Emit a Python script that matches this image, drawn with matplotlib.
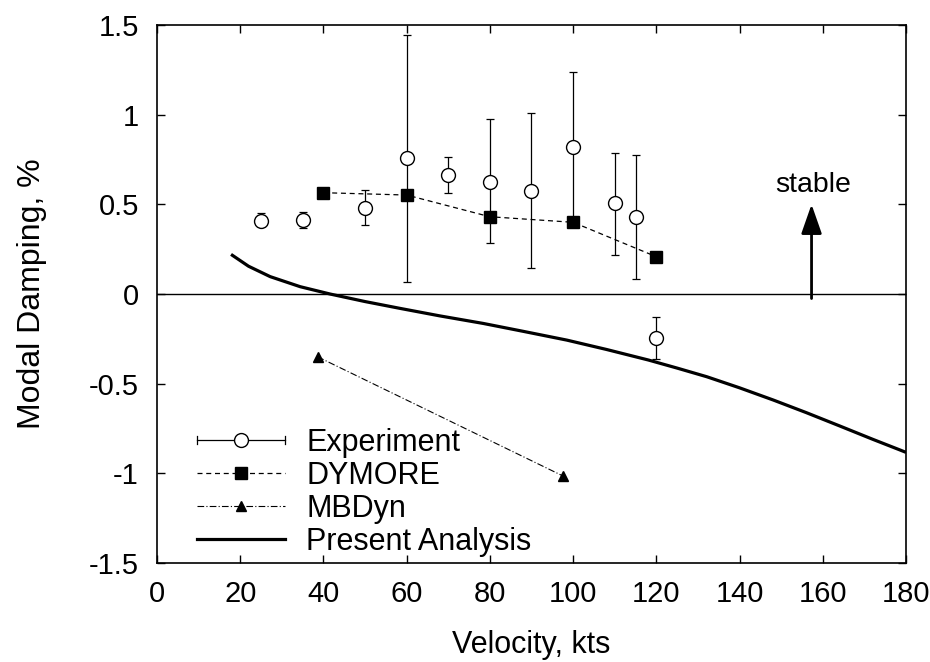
import matplotlib
matplotlib.use("Agg")
import matplotlib.pyplot as plt
import numpy as np
from matplotlib.lines import Line2D
from matplotlib.legend_handler import HandlerBase

plt.rcParams['font.family'] = ['Liberation Sans', 'DejaVu Sans']

# ---- data ----
exp_v = [25, 35, 50, 60, 70, 80, 90, 100, 110, 115, 120]
exp_d = [0.405, 0.41, 0.478, 0.758, 0.662, 0.626, 0.574, 0.822, 0.509, 0.428, -0.244]
exp_hi = [0.45, 0.456, 0.58, 1.446, 0.764, 0.974, 1.009, 1.236, 0.786, 0.777, -0.126]
exp_lo = [0.385, 0.366, 0.385, 0.067, 0.565, 0.284, 0.145, 0.40, 0.219, 0.082, -0.364]

dym_v = [40, 60, 80, 100, 120]
dym_d = [0.565, 0.552, 0.431, 0.40, 0.208]

mbd_v = [38.6, 97.6]
mbd_d = [-0.35, -1.015]

pa_v = [17.8, 22.0, 27.2, 34.4, 41.6, 50.0, 58.4, 68.0, 78.4, 88.0, 98.5, 108.0,
        118.1, 125.0, 132.1, 140.0, 148.1, 156.0, 164.1, 172.0, 178.6, 180.0]
pa_d = [0.221, 0.155, 0.097, 0.041, 0.0, -0.042, -0.080, -0.122, -0.164, -0.208,
        -0.257, -0.309, -0.368, -0.413, -0.461, -0.523, -0.591, -0.661, -0.736,
        -0.810, -0.870, -0.883]

xticks = [0, 20, 40, 60, 80, 100, 120, 140, 160, 180]
yticks = [-1.5, -1, -0.5, 0, 0.5, 1, 1.5]
ytick_labels = ['-1.5', '-1', '-0.5', '0', '0.5', '1', '1.5']

FS_TICK = 21
FS_LAB = 22
FS_LEG = 22

fig = plt.figure(figsize=(9.3, 6.62), dpi=100)
ax = fig.add_axes([0.1688, 0.1495, 0.9742 - 0.1688, 0.9622 - 0.1495])

# zero line
ax.axhline(0, color='black', lw=1.0, zorder=1)

# present analysis
ax.plot(pa_v, pa_d, color='black', lw=2.3, solid_capstyle='butt', zorder=3)

# experiment error bars
ev = np.array(exp_v); ed = np.array(exp_d)
yerr = [ed - np.array(exp_lo), np.array(exp_hi) - ed]
ax.errorbar(ev, ed, yerr=yerr, fmt='none', ecolor='black', elinewidth=0.9,
            capsize=3, capthick=0.9, zorder=4)
ax.plot(ev, ed, linestyle='none', marker='o', ms=10, mfc='white', mec='black',
        mew=1.0, zorder=6)

# DYMORE
ax.plot(dym_v, dym_d, color='black', lw=0.9, linestyle=(0, (4, 3)), marker='s',
        ms=9, mfc='black', mec='black', zorder=5)

# MBDyn
ax.plot(mbd_v, mbd_d, color='black', lw=0.8, linestyle=(0, (6, 2, 1, 2)), marker='^',
        ms=7, mfc='black', mec='black', zorder=5)

# stable arrow
ax.annotate('', xy=(157.3, 0.50), xytext=(157.3, -0.025),
            arrowprops=dict(arrowstyle='-|>,head_length=1.2,head_width=0.42',
                            mutation_scale=15, lw=2, color='black',
                            shrinkA=0, shrinkB=0), zorder=5)
ax.text(157.7, 0.571, 'stable', ha='center', va='baseline', fontsize=20.5)

ax.set_xlim(0, 180)
ax.set_ylim(-1.5, 1.5)
ax.set_xticks(xticks)
ax.set_yticks(yticks)
ax.set_yticklabels(ytick_labels)
ax.tick_params(direction='in', length=6, width=1, top=True, right=True,
               labelsize=FS_TICK, pad=12)
ax.tick_params(axis='y', pad=13)
for s in ax.spines.values():
    s.set_linewidth(1.2)

ax.set_xlabel('Velocity, kts', fontsize=FS_LAB, labelpad=16)
ax.set_ylabel('Modal Damping, %', fontsize=23, labelpad=30)


class HandlerExp(HandlerBase):
    def create_artists(self, legend, orig_handle, xdescent, ydescent, width,
                       height, fontsize, trans):
        y = height / 2.0 - ydescent
        x0 = -xdescent
        x1 = width - xdescent
        arts = [
            Line2D([x0, x1], [y, y], color='black', lw=0.9),
            Line2D([x0, x0], [y - 3, y + 3], color='black', lw=0.9),
            Line2D([x1, x1], [y - 3, y + 3], color='black', lw=0.9),
            Line2D([(x0 + x1) / 2.0], [y], marker='o', ms=10, mfc='white',
                   mec='black', mew=1.0, linestyle='none'),
        ]
        for a in arts:
            a.set_transform(trans)
        return arts


h_exp = Line2D([], [], color='black')
h_dym = Line2D([], [], color='black', lw=0.9, linestyle=(0, (4, 3)), marker='s',
               ms=9, mfc='black')
h_mbd = Line2D([], [], color='black', lw=0.8, linestyle=(0, (6, 2, 1, 2)),
               marker='^', ms=7, mfc='black')
h_pa = Line2D([], [], color='black', lw=2.3)

leg = ax.legend([h_exp, h_dym, h_mbd, h_pa],
                ['Experiment', 'DYMORE', 'MBDyn', 'Present Analysis'],
                handler_map={h_exp: HandlerExp()},
                loc='center left', bbox_to_anchor=(0.053, 0.131),
                frameon=False, fontsize=FS_LEG, handlelength=2.9,
                handletextpad=0.68, labelspacing=0.1, borderpad=0,
                borderaxespad=0, numpoints=1)

fig.savefig('out.png', dpi=100)
